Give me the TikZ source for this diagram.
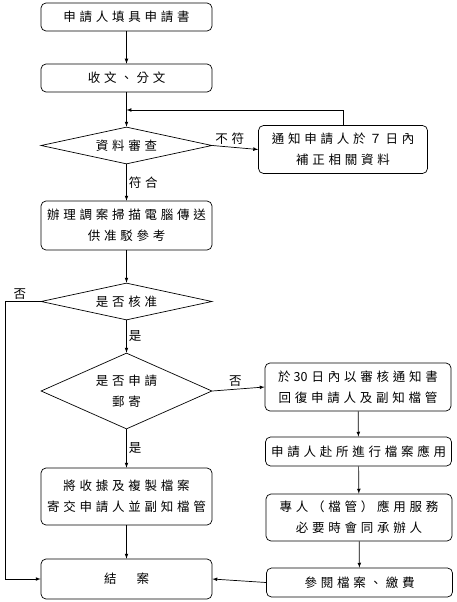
\documentclass[tikz,border=0pt]{standalone}
\usepackage{fontspec}
\newfontfamily\cjk[LetterSpace=30]{Noto Sans CJK TC}
\newfontfamily\cjktight{Noto Sans CJK TC}
\usetikzlibrary{shapes.geometric, arrows}
\tikzset{
  fc_node/.style = {align=center, inner sep=0pt, text centered,
    font=\cjk\fontsize{12.5}{21}\selectfont},
  fc_box/.style = {fc_node, rectangle, rounded corners=5pt, draw=black,
    minimum width=171pt},% 流程方塊
  fc_rbox/.style = {fc_box, minimum width=186pt},% 右欄方塊
  fc_dia/.style = {fc_node, diamond, draw=black,
    minimum width=171pt},% 判斷菱形
  fc_lbl/.style = {fc_node, inner sep=2pt}% 連線文字
}

\begin{document}
\begin{tikzpicture}[x=1pt, y=-1pt, >=latex, line width=0.7pt]
\useasboundingbox (0,0) rectangle (457,602);

\node[fc_box, minimum height=28pt]  (b1) at (126.5,17) {申請人填具申請書};
\node[fc_box, minimum height=28pt]  (b2) at (126.5,78) {收文、分文};
\node[fc_dia, minimum height=37pt, aspect=4.6] (d1) at (126.5,145.5) {資料審查};
\node[fc_box, minimum width=169pt, minimum height=48pt] (n1) at (343,149.5) {通知申請人於７日內\\補正相關資料};
\node[fc_box, minimum height=49pt]  (b3) at (126.5,225.5) {辦理調案掃描電腦傳送\\供准駁參考};
\node[fc_dia, minimum height=37pt, aspect=4.6] (d2) at (126.5,301.5) {是否核准};
\node[fc_dia, minimum height=76pt, aspect=2.25] (d3) at (126.5,391) {是否申請\\郵寄};
\node[fc_rbox, minimum height=48pt] (r1) at (358,387) {於\hspace{3pt}{\cjktight 30}\hspace{4pt}日內以審核通知書\\回復申請人及副知檔管};
\node[fc_rbox, minimum height=29pt] (r2) at (358.5,451.5) {申請人赴所進行檔案應用};
\node[fc_rbox, minimum height=47pt] (r3) at (359,517.5) {專人（檔管）應用服務\\必要時會同承辦人};
\node[fc_rbox, minimum height=29pt] (r4) at (359.5,582.5) {參閱檔案、繳費};
\node[fc_box, minimum height=57pt]  (b4) at (126.5,496.5) {將收據及複製檔案\\寄交申請人並副知檔管};
\node[fc_box, minimum height=40pt]  (b5) at (126.5,579) {結　案};

\coordinate (fb) at (126.5,110);
\coordinate (lp) at (5,301.5);

\draw[->] (b1) -- (b2);
\draw[->] (b2) -- (d1);
\draw[->] (n1.north) |- (fb);
\draw[->] (d1.east) -- node[fc_lbl, above, pos=0.38] (l1) {不符} (n1.west);
\draw[->] (d1.south) -- node[fc_lbl, right] (l2) {符合} (b3.north);
\draw[->] (b3) -- (d2);
\draw[->] (d2.west) -- node[fc_lbl, above, pos=0.58] (l3) {否} (lp) |- (b5.west);
\draw[->] (d2.south) -- node[fc_lbl, right] (l4) {是} (d3.north);
\draw[->] (d3.east) -- node[fc_lbl, above, pos=0.44] (l5) {否} (r1.west);
\draw[->] (d3.south) -- node[fc_lbl, right] (l6) {是} (b4.north);
\draw[->] (b4) -- (b5);
\draw[->] (r1) -- (r2);
\draw[->] (r2) -- (r3);
\draw[->] (r3) -- (r4);
\draw[->] (r4.west) -- (b5.east);
\end{tikzpicture}
\end{document}
